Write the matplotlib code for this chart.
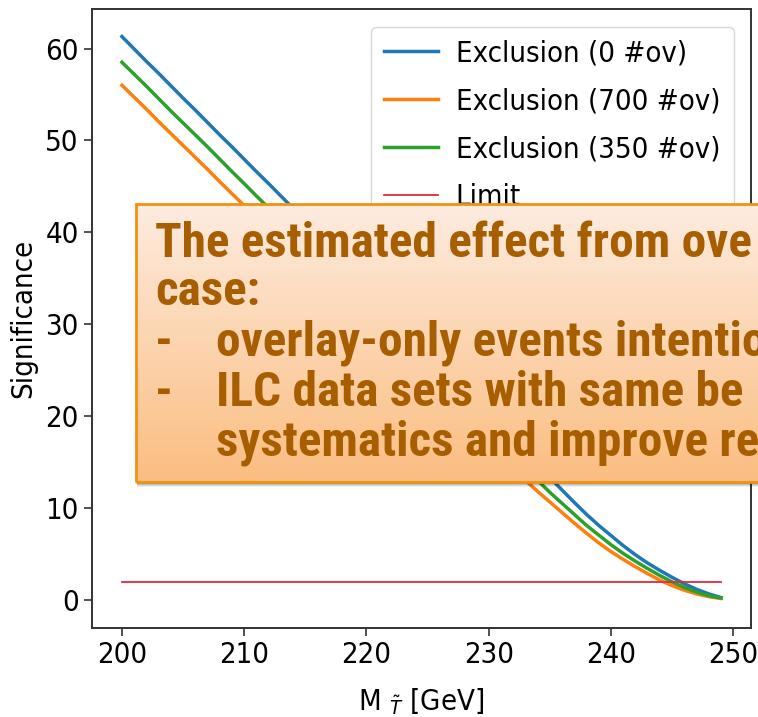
import matplotlib
matplotlib.use("Agg")
import matplotlib.pyplot as plt
import numpy as np
from matplotlib.patches import Rectangle

# stop mass scan points [GeV]
mass = np.arange(200, 250)

excl_0 = [61.3, 59.95, 58.6, 57.3, 55.95, 54.6, 53.3, 51.95, 50.6, 49.3,
          47.95, 46.6, 45.3, 43.95, 42.6, 41.2, 39.8, 38.4, 37.0, 35.6,
          34.2, 32.8, 31.4, 30.0, 28.6, 27.2, 25.8, 24.4, 23.0, 21.6,
          20.2, 18.8, 17.4, 16.0, 14.65, 13.3, 11.95, 10.6, 9.3, 8.1,
          7.0, 5.9, 4.9, 4.0, 3.2, 2.45, 1.75, 1.15, 0.65, 0.25]
excl_700 = [56.0, 54.7, 53.4, 52.05, 50.75, 49.45, 48.15, 46.85, 45.5, 44.2,
            42.9, 41.6, 40.3, 39.0, 37.7, 36.4, 35.1, 33.8, 32.5, 31.2,
            29.9, 28.6, 27.3, 26.0, 24.7, 23.4, 22.1, 20.8, 19.5, 18.2,
            16.9, 15.6, 14.3, 13.0, 11.8, 10.65, 9.5, 8.35, 7.25, 6.2,
            5.25, 4.4, 3.6, 2.85, 2.15, 1.55, 1.05, 0.65, 0.35, 0.15]
excl_350 = [58.5, 57.2, 55.9, 54.55, 53.2, 51.9, 50.6, 49.3, 47.95, 46.6,
            45.3, 43.95, 42.65, 41.3, 39.95, 38.6, 37.25, 35.9, 34.55, 33.2,
            31.85, 30.5, 29.15, 27.8, 26.45, 25.1, 23.75, 22.4, 21.05, 19.7,
            18.35, 17.0, 15.65, 14.3, 13.0, 11.7, 10.5, 9.3, 8.1, 7.05,
            6.0, 5.05, 4.2, 3.4, 2.65, 1.95, 1.35, 0.85, 0.45, 0.2]
limit = 2.0

labels = ["Exclusion (0 #ov)", "Exclusion (700 #ov)", "Exclusion (350 #ov)", "Limit"]
note_lines = [
    ("", "The estimated effect from ove"),
    ("", "case:"),
    ("-", "overlay-only events intentio"),
    ("-", "ILC data sets with same be"),
    ("", "systematics and improve re"),
]

W, H = 758, 717
plt.rcParams["font.family"] = "DejaVu Sans"
plt.rcParams["font.stretch"] = "condensed"
plt.rcParams["font.size"] = 21

fig = plt.figure(figsize=(W / 100, H / 100), dpi=100)
ax = fig.add_axes([92 / W, 1 - 628 / H, (751 - 92) / W, (628 - 9) / H])

ax.plot(mass, excl_0, color="tab:blue", lw=2.5, label=labels[0])
ax.plot(mass, excl_700, color="tab:orange", lw=2.5, label=labels[1])
ax.plot(mass, excl_350, color="tab:green", lw=2.5, label=labels[2])
ax.plot(mass, [limit] * len(mass), color="#e42a35", lw=1.3, label=labels[3])

ax.set_xticks([200, 210, 220, 230, 240, 250])
ax.set_yticks([0, 10, 20, 30, 40, 50, 60])
ax.set_xlim(197.55, 251.45)
ax.set_ylim(-3.06, 64.3)
ax.set_xlabel(r"M $_{\tilde{T}}$ [GeV]", labelpad=12)
ax.set_ylabel("Significance", labelpad=6)
ax.tick_params(length=5.5, width=1.2, pad=4, color="#333333")
for s in ax.spines.values():
    s.set_linewidth(1.4)
    s.set_color("#333333")
ax.legend(loc="upper right", handlelength=1.85, handletextpad=0.6, labelspacing=0.68,
          borderaxespad=0.6, borderpad=0.45)

# annotation box laid over the plot
bx0, by0, bx1, by1 = 136, 204, 780, 482

# soft drop shadow, mostly below the box
for k, a in enumerate([0.06, 0.09, 0.12, 0.15]):
    off = 5 - k
    sh = fig.add_axes([(bx0 + 1) / W, 1 - (by1 + off) / H, (bx1 - bx0) / W, (by1 - by0) / H],
                      zorder=8)
    sh.set_axis_off()
    sh.add_patch(Rectangle((0, 0), 1, 1, transform=sh.transAxes, facecolor="black",
                           alpha=a, lw=0, clip_on=False))

bx = fig.add_axes([bx0 / W, 1 - by1 / H, (bx1 - bx0) / W, (by1 - by0) / H], zorder=10)
top = np.array([254, 236, 224]) / 255
bot = np.array([251, 189, 128]) / 255
t = np.linspace(0, 1, 256)[:, None, None]
bx.imshow(top * (1 - t) + bot * t, extent=[0, 1, 0, 1], aspect="auto", origin="upper")
bx.set_xlim(0, 1)
bx.set_ylim(0, 1)
bx.set_axis_off()
bx.add_patch(Rectangle((0, 0), 1, 1, transform=bx.transAxes, fill=False,
                       ec="#F29111", lw=2, clip_on=False))

tx_kw = dict(family="Roboto Condensed", weight="bold", fontsize=35.5, color="#A65E00",
             va="baseline", zorder=12, stretch="condensed")
baselines = [257, 305, 356, 406, 455]
for (dash, txt), yb in zip(note_lines, baselines):
    if dash:
        fig.text(155 / W, 1 - yb / H, dash, **tx_kw)
    x = 155 if (not dash and txt[0].isupper() or txt == "case:") else 216
    fig.text(x / W, 1 - yb / H, txt, **tx_kw)

fig.savefig("out.png", dpi=100)
